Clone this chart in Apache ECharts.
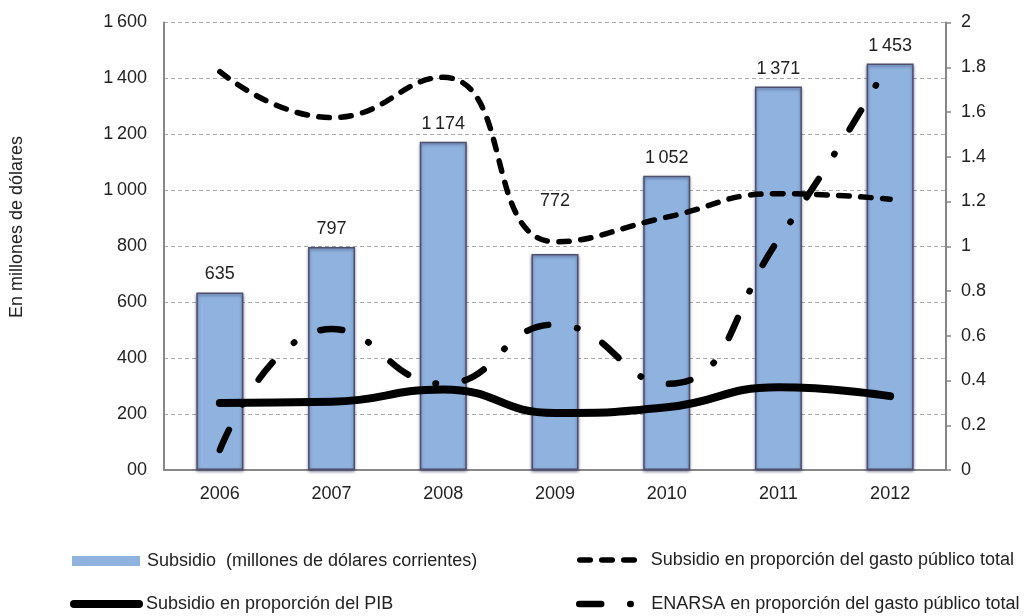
<!DOCTYPE html>
<html>
<head>
<meta charset="utf-8">
<script src="https://cdn.jsdelivr.net/npm/echarts@6/dist/echarts.min.js"></script>
<style>
  html, body { margin: 0; padding: 0; background: #ffffff; }
  #chart { width: 1036px; height: 616px; }
</style>
</head>
<body>
<div id="chart"></div>
<script>
// Years on the category axis
const years = ['2006', '2007', '2008', '2009', '2010', '2011', '2012'];
// Subsidy in millions of current dollars (left axis)
const subsidio = [635, 797, 1174, 772, 1052, 1371, 1453];
// Shares, in percent (right axis)
const gastoTotal = [1.78, 1.575, 1.755, 1.02, 1.13, 1.235, 1.21];
const pib = [0.30, 0.305, 0.36, 0.255, 0.28, 0.37, 0.33];
const enarsa = [0.09, 0.63, 0.385, 0.65, 0.385, 1.03, 1.83];

const names = {
  bar: 'Subsidio  (millones de dólares corrientes)',
  gasto: 'Subsidio en proporción del gasto público total',
  pib: 'Subsidio en proporción del PIB',
  enarsa: 'ENARSA en proporción del gasto público total'
};

const FONT = '"Liberation Sans", Arial, sans-serif';
const TXT = '#222222';

// Thousands grouped with a thin space; zero shown as "00"
function fmtMillions(v) {
  if (v === 0) return '00';
  if (v >= 1000) {
    const th = Math.floor(v / 1000);
    const rest = String(v % 1000).padStart(3, '0');
    return th + '\u2009' + rest;
  }
  return String(v);
}

// The 2009 value label sits higher so the dashed curve does not cross it
const barData = subsidio.map((v, i) =>
  years[i] === '2009' ? { value: v, label: { distance: 44 } } : v
);

const chart = echarts.init(document.getElementById('chart'), null, { renderer: 'canvas' });

function legendBox(name, left, top, opts) {
  return Object.assign({
    data: [name],
    left: left,
    top: top,
    padding: 0,
    itemGap: 0,
    selectedMode: false,
    textStyle: { fontFamily: FONT, fontSize: 18, color: TXT, padding: [0, 0, 0, 2] }
  }, opts);
}

const option = {
  animation: false,
  backgroundColor: '#ffffff',
  grid: { left: 164, right: 90, top: 22.5, bottom: 146, containLabel: false },
  xAxis: {
    type: 'category',
    data: years,
    axisLine: { show: true, lineStyle: { color: '#878787', width: 2 } },
    axisTick: { show: false },
    axisLabel: { fontFamily: FONT, fontSize: 18, color: TXT, margin: 15 },
    splitLine: { show: false }
  },
  yAxis: [
    {
      type: 'value',
      min: 0, max: 1600, interval: 200,
      position: 'left',
      axisLine: { show: true, lineStyle: { color: '#878787', width: 2 } },
      axisTick: { show: false },
      axisLabel: { fontFamily: FONT, fontSize: 18, color: TXT, margin: 17, formatter: fmtMillions },
      splitLine: { show: true, lineStyle: { color: '#a8a8a8', width: 1, type: [4, 3] } }
    },
    {
      type: 'value',
      min: 0, max: 2, interval: 0.2,
      position: 'right',
      axisLine: { show: true, lineStyle: { color: '#878787', width: 2 } },
      axisTick: { show: true, inside: false, length: 5, lineStyle: { color: '#878787', width: 1.5 } },
      axisLabel: { fontFamily: FONT, fontSize: 18, color: TXT, margin: 15 },
      splitLine: { show: false }
    }
  ],
  legend: [
    legendBox(names.bar, 72, 552, {
      icon: 'rect', itemWidth: 68, itemHeight: 10,
      itemStyle: { borderWidth: 0, shadowBlur: 0, shadowOffsetY: 0, color: '#8fb3de' }
    }),
    legendBox(names.gasto, 577, 551, {
      itemWidth: 64, itemHeight: 14,
      itemStyle: { opacity: 0 },
      lineStyle: { width: 5.5 }
    }),
    legendBox(names.pib, 70, 595, {
      itemWidth: 65, itemHeight: 14,
      itemStyle: { opacity: 0 },
      lineStyle: { width: 8 }
    }),
    legendBox(names.enarsa, 576, 595, {
      itemWidth: 65, itemHeight: 14,
      itemStyle: { opacity: 0 },
      lineStyle: { width: 6.5 }
    })
  ],
  graphic: [
    {
      type: 'text',
      x: 17, y: 227,
      rotation: Math.PI / 2,
      style: {
        text: 'En millones de dólares',
        font: '18px ' + FONT,
        fill: TXT,
        align: 'center',
        verticalAlign: 'middle'
      }
    }
  ],
  series: [
    {
      name: names.bar,
      type: 'bar',
      yAxisIndex: 0,
      data: barData,
      barWidth: 47,
      itemStyle: {
        color: '#8fb3de',
        borderColor: '#4e4f6c',
        borderWidth: 1.5,
        shadowColor: 'rgba(40, 40, 90, 0.55)',
        shadowBlur: 3,
        shadowOffsetY: 1.5
      },
      label: {
        show: true,
        position: 'top',
        distance: 9,
        fontFamily: FONT,
        fontSize: 18,
        color: TXT,
        formatter: p => fmtMillions(p.value)
      },
      z: 2
    },
    {
      name: names.gasto,
      type: 'line',
      yAxisIndex: 1,
      data: gastoTotal,
      smooth: 0.5,
      symbol: 'none',
      lineStyle: { color: '#000000', width: 5.5, type: [10.5, 11.5], cap: 'round' },
      itemStyle: { color: '#000000' },
      z: 5
    },
    {
      name: names.pib,
      type: 'line',
      yAxisIndex: 1,
      data: pib,
      smooth: 0.5,
      symbol: 'none',
      lineStyle: { color: '#000000', width: 8, cap: 'round' },
      itemStyle: { color: '#000000' },
      z: 5
    },
    {
      name: names.enarsa,
      type: 'line',
      yAxisIndex: 1,
      data: enarsa,
      smooth: 0.5,
      symbol: 'none',
      lineStyle: { color: '#000000', width: 6.5, type: [22, 29, 0.5, 29], cap: 'round' },
      itemStyle: { color: '#000000' },
      z: 5
    }
  ]
};

chart.setOption(option);
</script>
</body>
</html>
